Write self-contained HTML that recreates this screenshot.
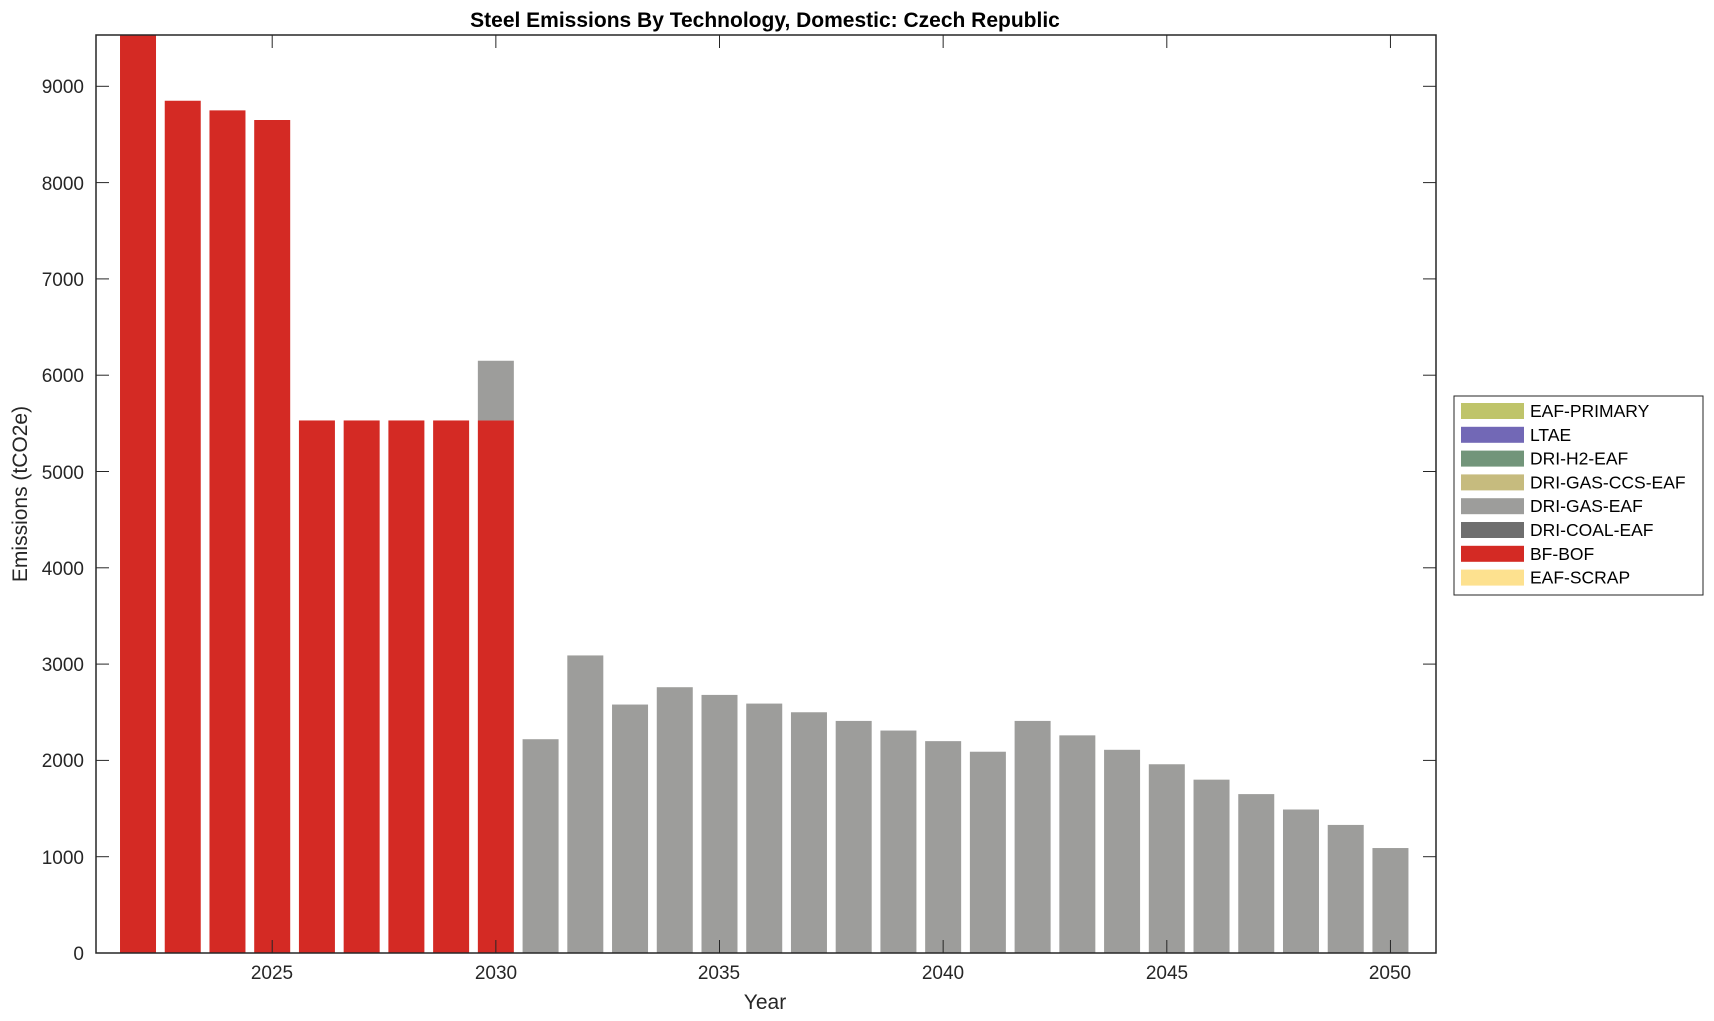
<!DOCTYPE html>
<html><head><meta charset="utf-8"><style>
html,body{margin:0;padding:0;background:#fff;}
svg{display:block;font-family:"Liberation Sans",Arial,sans-serif;}
</style></head><body>
<svg id="s" width="1714" height="1021" viewBox="0 0 1714 1021" xmlns="http://www.w3.org/2000/svg">
<rect width="1714" height="1021" fill="#fff"/>
<g id="bars"></g>
<rect x="96" y="35" width="1340" height="918" fill="none" stroke="#262626" stroke-width="1.5"/>
<g id="ticks" stroke="#262626" stroke-width="1"></g>
<g font-size="19" fill="#262626" text-anchor="end">
<text x="84" y="960">0</text>
<text x="84" y="864">1000</text>
<text x="84" y="767">2000</text>
<text x="84" y="671">3000</text>
<text x="84" y="575">4000</text>
<text x="84" y="479">5000</text>
<text x="84" y="382">6000</text>
<text x="84" y="286">7000</text>
<text x="84" y="190">8000</text>
<text x="84" y="93">9000</text>
</g>
<g font-size="19" fill="#262626" text-anchor="middle">
<text x="272" y="979">2025</text>
<text x="496" y="979">2030</text>
<text x="719" y="979">2035</text>
<text x="943" y="979">2040</text>
<text x="1167" y="979">2045</text>
<text x="1390" y="979">2050</text>
<text x="765" y="1009" font-size="21">Year</text>
<text x="765" y="27" font-size="21" font-weight="bold" fill="#000">Steel Emissions By Technology, Domestic: Czech Republic</text>
<text transform="translate(27,494) rotate(-90)" font-size="21">Emissions (tCO2e)</text>
</g>
<rect x="1454" y="396" width="249" height="199" fill="#fff" stroke="#262626" stroke-width="1"/>
<g id="leg" font-size="17.5" fill="#000"></g>
</svg>
<script>
var NS="http://www.w3.org/2000/svg";
function el(p,t,a){var e=document.createElementNS(NS,t);for(var k in a)e.setAttribute(k,a[k]);p.appendChild(e);return e;}
var b=document.getElementById("bars"),tk=document.getElementById("ticks");
function X(y){return 272.2+(y-2025)*44.73;}
function Y(v){return 953-v*0.0963;}
var red=[9600,8850,8750,8650,5530,5530,5530,5530,5530];
var grey={2030:620,2031:2220,2032:3090,2033:2580,2034:2760,2035:2680,2036:2590,2037:2500,2038:2410,2039:2310,2040:2200,2041:2090,2042:2410,2043:2260,2044:2110,2045:1960,2046:1800,2047:1650,2048:1490,2049:1330,2050:1090};
for(var i=0;i<red.length;i++){var yr=2022+i,t=Math.max(Y(red[i]),35);el(b,"rect",{x:X(yr)-18,y:t,width:36,height:953-t,fill:"#d42a24"});}
for(var yr in grey){var base=yr==2030?5530:0;var t=Y(base+grey[yr]);el(b,"rect",{x:X(+yr)-18,y:t,width:36,height:Y(base)-t,fill:"#9d9d9b"});}
for(var v=0;v<=9000;v+=1000){var y=Y(v);el(tk,"line",{x1:96,y1:y,x2:109,y2:y});el(tk,"line",{x1:1436,y1:y,x2:1423,y2:y});}
for(var yr=2025;yr<=2050;yr+=5){var x=X(yr);el(tk,"line",{x1:x,y1:953,x2:x,y2:940});el(tk,"line",{x1:x,y1:35,x2:x,y2:48});}
var L=[["EAF-PRIMARY","#bfc46a"],["LTAE","#7268b6"],["DRI-H2-EAF","#72957a"],["DRI-GAS-CCS-EAF","#c6bb7e"],["DRI-GAS-EAF","#9d9d9b"],["DRI-COAL-EAF","#6e6e6e"],["BF-BOF","#d42a24"],["EAF-SCRAP","#fde18f"]];
var lg=document.getElementById("leg");
for(var i=0;i<L.length;i++){var y=411+i*23.8;el(lg,"rect",{x:1461,y:y-8,width:63,height:16,fill:L[i][1]});var t=el(lg,"text",{x:1530,y:y+6});t.textContent=L[i][0];}
</script>
</body></html>
